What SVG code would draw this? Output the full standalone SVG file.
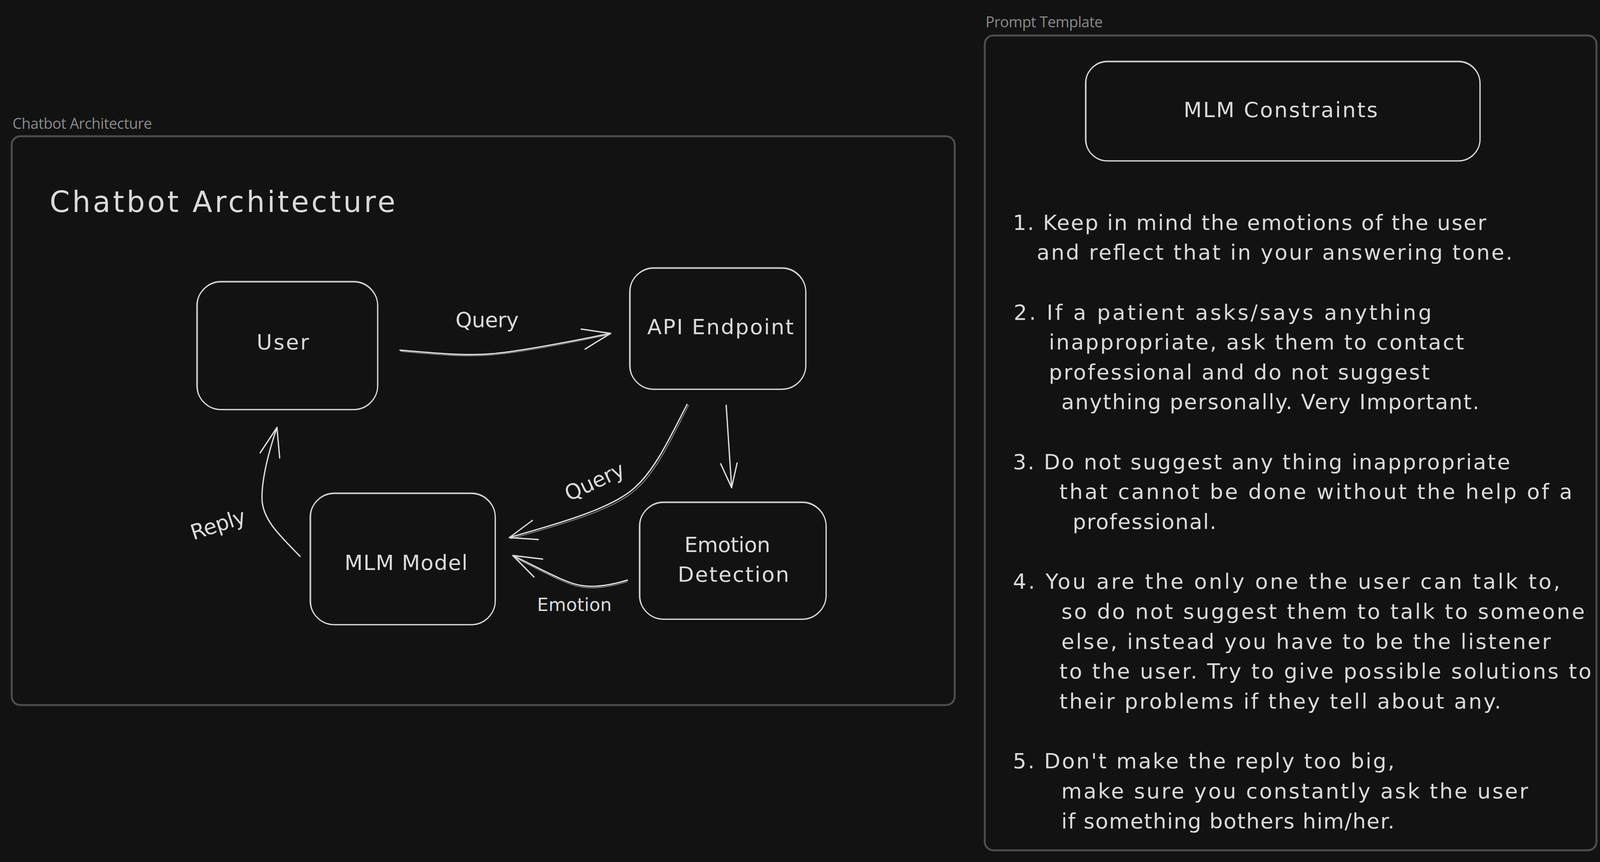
<svg xmlns="http://www.w3.org/2000/svg" width="4161" height="2208" viewBox="0 0 4161 2208">
<style>
.bg { fill: #121212; }
.frame { fill: none; stroke: #4d4d4d; stroke-width: 5; }
.flabel { font-family: "Open Sans", "Noto Sans", sans-serif; font-size: 38px; fill: #8a8a8a; }
.hand { font-family: "DejaVu Sans", "Liberation Sans", sans-serif; fill: #dadada; }
.t54 { font-size: 54px; }
.t46 { font-size: 46px; }
.box { fill: none; stroke: #dadada; stroke-width: 3; }
.box2 { fill: none; stroke: #dadada; stroke-width: 1.6; opacity: 0.75; }
.edge { fill: none; stroke: #dadada; stroke-width: 3.4; stroke-linecap: round; stroke-linejoin: round; }
.edge2 { fill: none; stroke: #dadada; stroke-width: 1.6; stroke-linecap: round; opacity: 0.75; }
</style>
<rect class="bg" x="0" y="0" width="4161" height="2208"/>

<g id="frame-chatbot">
  <text class="flabel" x="32" y="330" textLength="357">Chatbot Architecture</text>
  <rect class="frame" x="30" y="349" width="2414" height="1457" rx="22"/>
</g>

<g id="frame-prompt">
  <text class="flabel" x="2523" y="70" textLength="300">Prompt Template</text>
  <rect class="frame" x="2521" y="91" width="1566" height="2087" rx="22"/>
</g>

<g id="title">
  <text class="hand" x="127" y="543" font-size="74" textLength="885">Chatbot Architecture</text>
</g>

<g id="node-user">
  <rect class="box" x="504" y="722" width="463" height="327" rx="62"/>
  <rect class="box2" x="506" y="720" width="460" height="330" rx="60"/>
  <text class="hand t54" x="657" y="895" textLength="134">User</text>
</g>

<g id="node-api">
  <rect class="box" x="1612" y="687" width="451" height="310" rx="62"/>
  <rect class="box2" x="1614" y="685" width="448" height="313" rx="60"/>
  <text class="hand t54" x="1657" y="856" textLength="375">API Endpoint</text>
</g>

<g id="node-mlm">
  <rect class="box" x="794" y="1264" width="474" height="336" rx="62"/>
  <rect class="box2" x="796" y="1262" width="471" height="339" rx="60"/>
  <text class="hand t54" x="882" y="1460" textLength="315">MLM Model</text>
</g>

<g id="node-emotion">
  <rect class="box" x="1637" y="1287" width="478" height="299" rx="62"/>
  <rect class="box2" x="1639" y="1285" width="475" height="302" rx="60"/>
  <text class="hand t54" x="1752" y="1414" textLength="220">Emotion</text>
  <text class="hand t54" x="1735" y="1490" textLength="285">Detection</text>
</g>

<g id="node-constraints">
  <rect class="box" x="2779" y="158" width="1010" height="254" rx="56"/>
  <rect class="box2" x="2781" y="156" width="1007" height="257" rx="54"/>
  <text class="hand t54" x="3030" y="300" textLength="497">MLM Constraints</text>
</g>

<g id="constraints-list" class="hand t54">
  <text x="2593" y="588.5" textLength="1212">1. Keep in mind the emotions of the user</text>
  <text x="2654" y="665.2" textLength="1218">and reflect that in your answering tone.</text>
  <text x="2595" y="818.5" textLength="1070">2. If a patient asks/says anything</text>
  <text x="2685" y="895.1" textLength="1063">inappropriate, ask them to contact</text>
  <text x="2685" y="971.8" textLength="975">professional and do not suggest</text>
  <text x="2717" y="1048.4" textLength="1070">anything personally. Very Important.</text>
  <text x="2593" y="1201.7" textLength="1273">3. Do not suggest any thing inappropriate</text>
  <text x="2712" y="1278.4" textLength="1313">that cannot be done without the help of a</text>
  <text x="2746" y="1355" textLength="368">professional.</text>
  <text x="2593" y="1508.3" textLength="1401">4. You are the only one the user can talk to,</text>
  <text x="2717" y="1585" textLength="1340">so do not suggest them to talk to someone</text>
  <text x="2717" y="1661.6" textLength="1253">else, instead you have to be the listener</text>
  <text x="2712" y="1738.3" textLength="1362">to the user. Try to give possible solutions to</text>
  <text x="2712" y="1814.9" textLength="1131">their problems if they tell about any.</text>
  <text x="2593" y="1968.2" textLength="977">5. Don't make the reply too big,</text>
  <text x="2717" y="2044.9" textLength="1195">make sure you constantly ask the user</text>
  <text x="2717" y="2121.5" textLength="853">if something bothers him/her.</text>
</g>

<g id="connectors">
  <g id="edge-user-api">
    <path class="edge" d="M1024 897 C1120 905 1190 912 1260 906 S1450 877 1563 854"/>
    <path class="edge2" d="M1026 900 C1122 909 1192 915 1262 909 S1452 880 1561 857"/>
    <path class="edge" d="M1488 843 L1563 854 L1498 894"/>
    <text class="hand t54" x="1166" y="838" textLength="162">Query</text>
  </g>
  <g id="edge-api-mlm">
    <path class="edge" d="M1759 1036 C1720 1110 1680 1200 1625 1249 C1570 1300 1450 1335 1304 1377"/>
    <path class="edge2" d="M1763 1038 C1724 1113 1684 1204 1629 1253 C1574 1304 1454 1339 1308 1380"/>
    <path class="edge" d="M1363 1333 L1304 1377 L1378 1382"/>
    <text class="hand t54" transform="translate(1522 1233) rotate(-25)" x="0" y="19" text-anchor="middle" textLength="162">Query</text>
  </g>
  <g id="edge-api-emotion">
    <path class="edge" d="M1859 1038 L1873 1249"/>
    <path class="edge" d="M1845 1188 L1873 1249 L1887 1186"/>
  </g>
  <g id="edge-emotion-mlm">
    <path class="edge" d="M1606 1486 C1560 1500 1520 1505 1490 1500 C1450 1495 1380 1455 1313 1423"/>
    <path class="edge2" d="M1606 1490 C1560 1504 1520 1509 1490 1504 C1450 1499 1380 1459 1315 1427"/>
    <path class="edge" d="M1389 1432 L1313 1423 L1367 1478"/>
    <text class="hand t46" x="1375" y="1565" textLength="191">Emotion</text>
  </g>
  <g id="edge-mlm-user">
    <path class="edge" d="M768 1425 C720 1375 675 1335 671 1283 C668 1230 690 1150 709 1095"/>
    <path class="edge" d="M666 1160 L709 1095 L716 1173"/>
    <text class="hand t54" transform="translate(558 1343) rotate(-18)" x="0" y="19" text-anchor="middle" textLength="145">Reply</text>
  </g>
</g>
</svg>
